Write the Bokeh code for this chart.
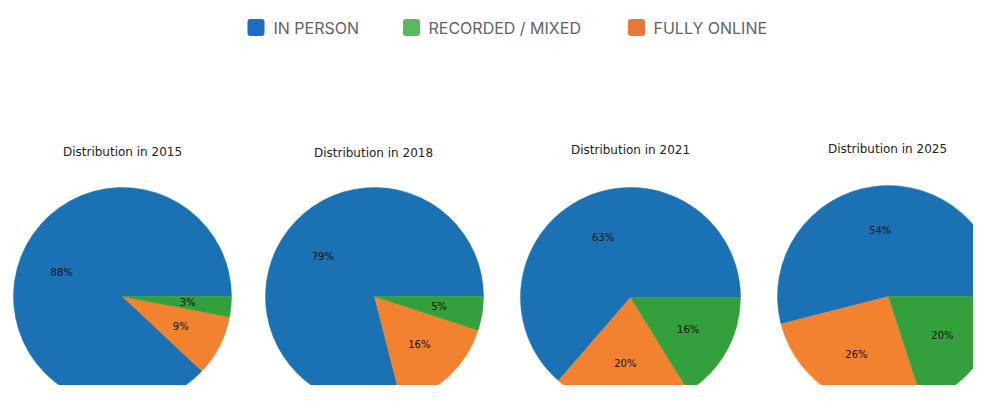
from bokeh.plotting import figure
from bokeh.models import Range1d, ColumnDataSource
from bokeh.core.properties import value
from bokeh.embed import file_html
from bokeh.resources import INLINE
import numpy as np

# ---- data ----
years = ["2015", "2018", "2021", "2025"]
in_person = [88, 79, 63, 54]
fully_online = [9, 16, 20, 26]
recorded_mixed = [3, 5, 16, 20]
legend_labels = ["IN PERSON", "RECORDED / MIXED", "FULLY ONLINE"]

# ---- styles / layout ----
W, H, M = 973, 385, 0
pie_colors = ["#1a72b4", "#f28230", "#34a03c"]          # in person, online, recorded
legend_colors = ["#1f6bbf", "#5cb85c", "#e8773a"]
centers = [(122, 296), (374, 296), (630, 297), (888, 296)]
radii = [109, 109, 110, 111]
title_pos = [(122, 151), (373, 152), (630, 149), (887, 148)]
legend_sq_x = [255.5, 411, 636]
legend_txt_x = [273, 428, 653]
legend_y = 27


def px(X, Y):
    return X - M, H + M - Y


p = figure(width=W, height=H, output_backend="svg", toolbar_location=None,
           x_range=Range1d(0, W), y_range=Range1d(0, H),
           x_axis_type=None, y_axis_type=None, min_border=0,
           outline_line_color=None, background_fill_color="white")
p.grid.visible = False

for i, yr in enumerate(years):
    vals = np.array([in_person[i], fully_online[i], recorded_mixed[i]], dtype=float)
    frac = vals / vals.sum()
    ends = np.cumsum(frac) * 2 * np.pi
    starts = np.concatenate([[0], ends[:-1]])
    cx, cy = px(*centers[i])
    r = radii[i]
    src = ColumnDataSource(dict(start=starts, end=ends, color=pie_colors))
    p.wedge(x=cx, y=cy, radius=r, start_angle="start", end_angle="end",
            fill_color="color", line_color="color", line_width=0.5, source=src)
    mids = (starts + ends) / 2
    lx = cx + 0.6 * r * np.cos(mids)
    ly = cy + 0.6 * r * np.sin(mids)
    labels = [f"{int(v)}%" for v in vals]
    p.text(x=lx, y=ly, text=labels, text_align="center", text_baseline="middle",
           text_font=value("DejaVu Sans"), text_font_size="10px", text_color="#111111")
    tx, ty = px(*title_pos[i])
    p.text(x=[tx], y=[ty], text=[f"Distribution in {yr}"], text_align="center",
           text_baseline="middle", text_font=value("DejaVu Sans"),
           text_font_size="12px", text_color="#222222")

# legend
half = 8.5
for j, lab in enumerate(legend_labels):
    sx, sy = px(legend_sq_x[j], legend_y)
    p.quad(left=sx - half, right=sx + half, bottom=sy - half, top=sy + half,
           fill_color=legend_colors[j], line_color=None, border_radius=3)
    tx, ty = px(legend_txt_x[j], legend_y)
    p.text(x=[tx], y=[ty], text=[lab], text_align="left", text_baseline="middle",
           text_font=value("Inter"), text_font_size="16px", text_color="#636363")

open("out.html", "w").write(file_html(p, INLINE))
